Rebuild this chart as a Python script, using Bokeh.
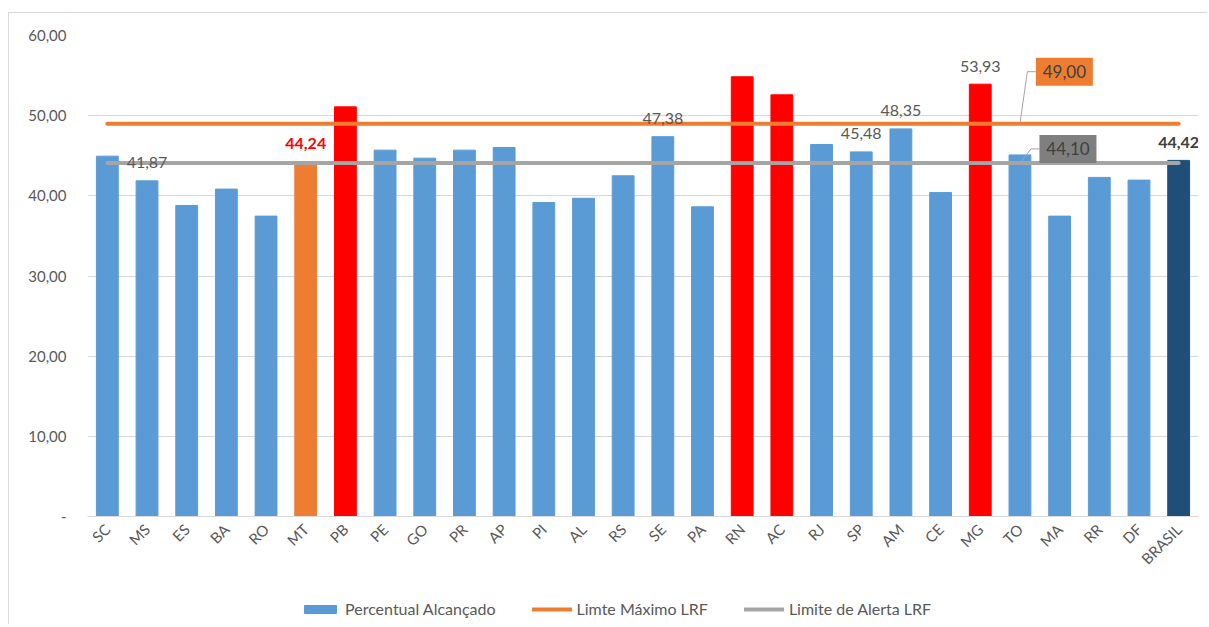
import math
from bokeh.plotting import figure
from bokeh.models import FactorRange, Range1d, FixedTicker, Legend, LegendItem, ColumnDataSource
from bokeh.core.properties import value
from bokeh.embed import file_html
from bokeh.resources import INLINE

# ---------------- data ----------------
states = ["SC", "MS", "ES", "BA", "RO", "MT", "PB", "PE", "GO", "PR", "AP", "PI", "AL", "RS",
          "SE", "PA", "RN", "AC", "RJ", "SP", "AM", "CE", "MG", "TO", "MA", "RR", "DF", "BRASIL"]
percentual = [44.95, 41.87, 38.80, 40.84, 37.47, 44.24, 51.10, 45.70, 44.70, 45.70, 46.03, 39.17,
              39.70, 42.50, 47.38, 38.63, 54.85, 52.60, 46.40, 45.48, 48.35, 40.42, 53.93, 45.10,
              37.47, 42.30, 41.96, 44.42]
limite_maximo = 49.00
limite_alerta = 44.10
labeled_states = ["MS", "MT", "SE", "SP", "AM", "MG", "BRASIL"]
callout_anchor = "TO"
y_ticks = [0, 10, 20, 30, 40, 50, 60]

# ---------------- styles ----------------
FONT = "Lato"
BLUE = "#5B9BD5"
ORANGE = "#ED7D31"
RED = "#FF0000"
NAVY = "#1F4E79"
GREY_LINE = "#A5A5A5"
TEXT = "#595959"
DARK = "#404040"
red_states = {"PB", "RN", "AC", "MG"}

def bar_color(s):
    if s == "MT":
        return ORANGE
    if s in red_states:
        return RED
    if s == "BRASIL":
        return NAVY
    return BLUE

def fmt(v):
    return f"{v:.2f}".replace(".", ",")

# layout (pixels)
W, H = 1199, 612
ML, MT_ = 78, 22
FW = 1111                 # frame width
PLOT_H = 481              # height of the 0..60 value band
n = len(states)
px_cat = FW / n
px_unit = PLOT_H / (y_ticks[-1] - y_ticks[0])
below_px = H - MT_ - PLOT_H        # room under the zero line for labels and legend
y_min = -below_px / px_unit

p = figure(x_range=FactorRange(*states, range_padding=0), y_range=Range1d(y_min, y_ticks[-1]),
           width=W, height=H, output_backend="svg", toolbar_location=None,
           min_border_left=ML, min_border_top=MT_, min_border_right=W - ML - FW,
           min_border_bottom=0)
p.styles = {"margin-top": "12px", "margin-left": "8px",
            "border-top": "1px solid #D9D9D9", "border-left": "1px solid #D9D9D9"}
p.outline_line_color = None
p.background_fill_color = "white"
p.border_fill_color = "white"

src = ColumnDataSource(dict(state=states, value=percentual,
                            color=[bar_color(s) for s in states]))
bars = p.vbar(x="state", top="value", bottom=0, width=0.55, color="color", source=src)

l_max = p.line(x=states, y=[limite_maximo] * n, line_color=ORANGE, line_width=4, line_cap="round")
l_alert = p.line(x=states, y=[limite_alerta] * n, line_color=GREY_LINE, line_width=4, line_cap="round")

# data labels
lab_x, lab_y, lab_t, lab_c, lab_w = [], [], [], [], []
for s, v in zip(states, percentual):
    if s in labeled_states:
        lab_x.append(s)
        lab_y.append(v)
        lab_t.append(fmt(v))
        if s == "MT":
            lab_c.append(RED); lab_w.append("bold")
        elif s == "BRASIL":
            lab_c.append(DARK); lab_w.append("bold")
        else:
            lab_c.append(TEXT); lab_w.append("normal")
p.text(x="x", y="y", text="t", text_color="c", text_font_style="w",
       source=ColumnDataSource(dict(x=lab_x, y=lab_y, t=lab_t, c=lab_c, w=lab_w)),
       text_font=value(FONT), text_font_size="16px", text_align="center",
       text_baseline="middle", y_offset=-18)

# callouts for the limit lines
ai = states.index(callout_anchor) + 0.5
def cx(px):
    return ai + px / px_cat
def cy(base, px_up):
    return base + px_up / px_unit

BOX_W, BOX_H = 57, 28
for base, up, lead_dx, fill in [(limite_maximo, 52, 7.4, ORANGE), (limite_alerta, 14, 11, "#7F7F7F")]:
    gap = lead_dx + 8.5
    p.line(x=[ai, cx(lead_dx), cx(gap)], y=[base, cy(base, up), cy(base, up)],
           line_color=GREY_LINE, line_width=1)
    p.rect(x=[cx(gap + BOX_W / 2)], y=[cy(base, up)], width=BOX_W, height=BOX_H,
           width_units="screen", height_units="screen", fill_color=fill, line_color=None)
    p.text(x=[cx(gap + BOX_W / 2)], y=[cy(base, up)], text=[fmt(base)], text_color=DARK,
           text_font=value(FONT), text_font_size="17px", text_align="center",
           text_baseline="middle")

# axes
p.yaxis.ticker = FixedTicker(ticks=y_ticks)
p.yaxis.major_label_overrides = {t: ("-" if t == 0 else fmt(t)) for t in y_ticks}
p.yaxis.axis_line_color = None
p.yaxis.major_tick_line_color = None
p.yaxis.minor_tick_line_color = None
p.yaxis.major_tick_out = 0
p.yaxis.major_tick_in = 0
p.yaxis.major_label_standoff = 21
p.yaxis.major_label_text_font = FONT
p.yaxis.major_label_text_font_size = "15px"
p.yaxis.major_label_text_color = TEXT

p.xaxis.fixed_location = 0
p.xaxis.axis_line_color = "#D9D9D9"
p.xaxis.major_tick_line_color = None
p.xaxis.minor_tick_line_color = None
p.xaxis.major_tick_out = 0
p.xaxis.major_tick_in = 0
p.xaxis.major_label_orientation = math.pi / 4
p.xaxis.major_label_standoff = 10
p.xaxis.major_label_text_font = FONT
p.xaxis.major_label_text_font_size = "15px"
p.xaxis.major_label_text_color = TEXT

p.xgrid.grid_line_color = None
p.ygrid.grid_line_color = "#D9D9D9"
p.ygrid.grid_line_width = 1

legend = Legend(items=[LegendItem(label="Percentual Alcançado", renderers=[bars]),
                       LegendItem(label="Limte Máximo LRF", renderers=[l_max]),
                       LegendItem(label="Limite de Alerta LRF", renderers=[l_alert])],
                orientation="horizontal", location=(213, 7),
                glyph_width=40, glyph_height=10, label_standoff=5, spacing=36,
                padding=0, margin=0, border_line_color=None, background_fill_alpha=0,
                label_text_font=FONT, label_text_font_size="16px", label_text_color=TEXT)
p.add_layout(legend)

open("out.html", "w").write(file_html(p, INLINE))
